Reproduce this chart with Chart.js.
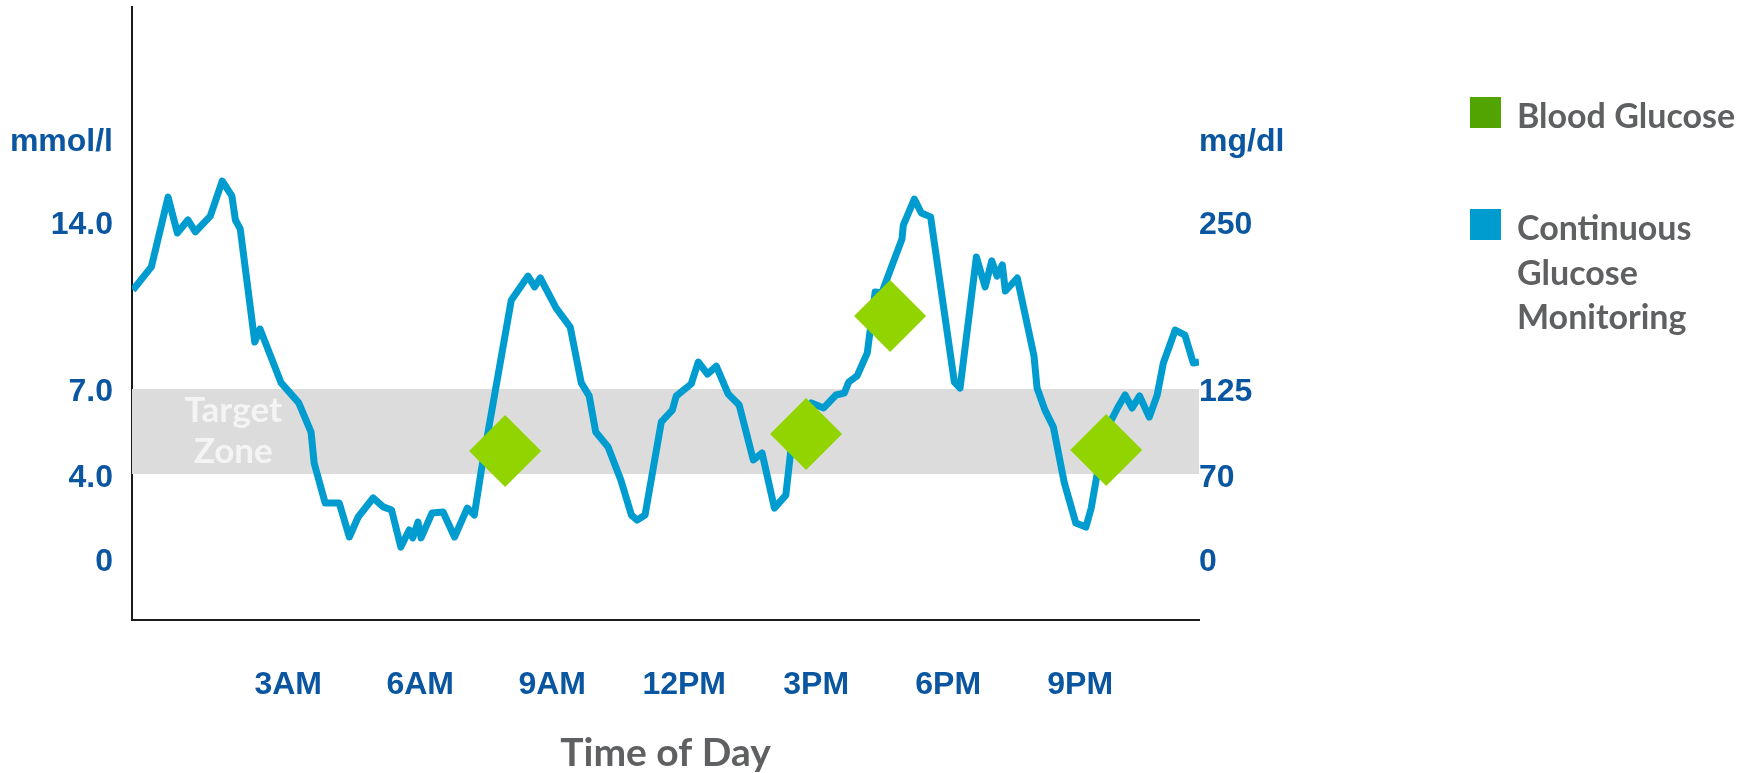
<!DOCTYPE html>
<html>
<head>
<meta charset="utf-8">
<title>Blood glucose vs CGM</title>
<script src="https://cdn.jsdelivr.net/npm/chart.js@4.4.1/dist/chart.umd.min.js"></script>
<style>
    html, body { margin: 0; padding: 0; background: #fff; }
    #wrap { position: relative; width: 1754px; height: 773px; }
    #glucoseChart { position: absolute; left: 0; top: 0; }
    .legend-item { position: absolute; left: 1470px; font-family: Lato, sans-serif; font-weight: 700;
        font-size: 34px; line-height: 44.5px; color: #5f6062; }
    .legend-item .box { position: absolute; left: 0; width: 31px; height: 31px; }
    .legend-item .txt { position: absolute; left: 47px; white-space: nowrap; }
</style>
</head>
<body>
<div id="wrap">
    <canvas id="glucoseChart" width="1754" height="773"></canvas>
    <div class="legend-item" style="top:0">
        <div class="box" style="top:97px;background:#52a500"></div>
        <div class="txt" style="top:93px">Blood Glucose</div>
    </div>
    <div class="legend-item" style="top:0">
        <div class="box" style="top:209px;background:#009cd0"></div>
        <div class="txt" style="top:205px">Continuous<br>Glucose<br>Monitoring</div>
    </div>
</div>
<script>
// continuous glucose trace (hour of day, mmol/l)
const cgmHours = [
    -0.53, -0.11, 0.27, 0.48, 0.72, 0.89, 1.23, 1.50, 1.72, 1.80, 1.91, 2.24, 2.36,
    2.84, 3.24, 3.52, 3.59, 3.84, 4.16, 4.39, 4.59, 4.93, 5.16, 5.35, 5.56, 5.75, 5.83,
    5.95, 6.02, 6.27, 6.52, 6.78, 7.07, 7.23, 7.39,
    8.07, 8.45, 8.60, 8.73, 9.09, 9.41, 9.66, 9.84, 9.99, 10.27, 10.56, 10.80, 10.93,
    11.11, 11.48, 11.73, 11.82, 12.16, 12.32, 12.53, 12.73, 13.00, 13.25, 13.57, 13.77,
    14.05, 14.31, 14.45,
    14.89, 15.17, 15.45, 15.64, 15.74, 15.93, 16.16, 16.34, 16.49, 16.77, 16.95, 16.98,
    17.23, 17.39, 17.60,
    18.14, 18.27, 18.64, 18.84, 18.99, 19.11, 19.23, 19.30, 19.57, 19.95, 20.02, 20.20,
    20.39, 20.64, 20.90, 21.13, 21.25, 21.39, 21.59,
    21.86, 22.02, 22.18, 22.35, 22.57, 22.75, 22.89, 23.16, 23.38, 23.57, 23.70
];
const cgmValues = [
    11.30, 12.26, 15.16, 13.67, 14.21, 13.72, 14.37, 15.83, 15.21, 14.21, 13.84, 9.14, 9.68,
    7.44, 6.61, 5.40, 4.11, 2.45, 2.45, 1.04, 1.87, 2.66, 2.29, 2.16, 0.62, 1.33, 1.00,
    1.66, 1.00, 2.04, 2.08, 1.04, 2.24, 1.95, 3.82,
    10.88, 11.88, 11.43, 11.80, 10.55, 9.76, 7.44, 6.90, 5.40, 4.78, 3.41, 1.95, 1.74,
    1.95, 5.82, 6.31, 6.90, 7.40, 8.31, 7.81, 8.14, 6.98, 6.52, 4.24, 4.53,
    2.24, 2.78, 5.07,
    6.61, 6.40, 6.94, 7.02, 7.48, 7.73, 8.68, 11.22, 11.18, 12.55, 13.42, 14.00,
    15.08, 14.50, 14.34,
    7.48, 7.23, 12.67, 11.43, 12.51, 11.88, 12.34, 11.26, 11.80, 8.56, 7.23, 6.31,
    5.61, 3.28, 1.62, 1.45, 2.24, 3.70, 5.48,
    6.44, 6.94, 6.40, 6.90, 6.02, 6.94, 8.27, 9.64, 9.43, 8.27, 8.31
];

// finger-stick readings
const bgHours = [7.93, 14.77, 16.68, 21.59];
const bgValues = [4.61, 5.32, 10.22, 4.65];

const targetZone = [3.66, 7.19];
const zoneLabel = ['Target', 'Zone'];
const zoneLabelHour = 1.75;

const xTickHours = [3, 6, 9, 12, 15, 18, 21];
const xTickLabels = ['3AM', '6AM', '9AM', '12PM', '3PM', '6PM', '9PM'];
const yTickPos = [0, 3.49, 7.06, 14, 17.45];
const mmolLabels = ['0', '4.0', '7.0', '14.0', 'mmol/l'];
const mgdlLabels = ['0', '70', '125', '250', 'mg/dl'];

const X_MIN = -0.55, X_MAX = 23.7;
const Y_MIN = -2.41, Y_MAX = 23.06;

const BLUE_TEXT = '#0b56a0';

document.addEventListener('DOMContentLoaded', function () {
    initChart();
});

function fixedWidth(w) {
    return function (scale) {
        scale.width = w;
        scale.paddingTop = 0;
        scale.paddingBottom = 0;
    };
}

const zoneLabelPlugin = {
    id: 'zoneLabel',
    afterDatasetDraw(chart, args) {
        if (args.index !== 0) return;
        const { ctx, scales: { x, y } } = chart;
        const cx = x.getPixelForValue(zoneLabelHour);
        const cy = y.getPixelForValue((targetZone[0] + targetZone[1]) / 2);
        ctx.save();
        ctx.font = 'bold 35px Lato';
        ctx.fillStyle = '#f4f4f4';
        ctx.textAlign = 'center';
        ctx.textBaseline = 'middle';
        ctx.fillText(zoneLabel[0], cx, cy - 21);
        ctx.fillText(zoneLabel[1], cx, cy + 20);
        ctx.restore();
    }
};

function initChart() {
    const ctx = document.getElementById('glucoseChart');

    new Chart(ctx, {
        type: 'line',
        data: {
            datasets: [{
                label: 'Target Zone',
                data: [{ x: X_MIN, y: targetZone[1] }, { x: X_MAX, y: targetZone[1] }],
                borderColor: 'rgba(0,0,0,0)',
                backgroundColor: '#dcdcdc',
                pointRadius: 0,
                fill: { value: targetZone[0] },
                order: 3
            }, {
                label: 'Continuous Glucose Monitoring',
                data: cgmHours.map((h, i) => ({ x: h, y: cgmValues[i] })),
                borderColor: '#009cd0',
                borderWidth: 7,
                borderJoinStyle: 'round',
                pointRadius: 0,
                tension: 0,
                fill: false,
                order: 2
            }, {
                label: 'Blood Glucose',
                data: bgHours.map((h, i) => ({ x: h, y: bgValues[i] })),
                showLine: false,
                pointStyle: 'rectRot',
                pointRadius: 36,
                pointHoverRadius: 36,
                pointBackgroundColor: '#92d400',
                pointBorderWidth: 0,
                order: 1
            }]
        },
        options: {
            responsive: false,
            animation: false,
            events: [],
            layout: { autoPadding: false, padding: { top: 7, left: 0, right: 0, bottom: 0 } },
            scales: {
                x: {
                    type: 'linear',
                    min: X_MIN,
                    max: X_MAX,
                    grid: { display: false, drawTicks: false },
                    border: { display: true, color: '#1a1a1a', width: 2 },
                    afterBuildTicks: scale => { scale.ticks = xTickHours.map(v => ({ value: v })); },
                    afterFit: scale => { scale.height = 153; scale.paddingLeft = 0; scale.paddingRight = 0; },
                    ticks: {
                        padding: 46,
                        maxRotation: 0,
                        autoSkip: false,
                        color: BLUE_TEXT,
                        font: { family: 'Liberation Sans', weight: 'bold', size: 32 },
                        callback: (value, index) => xTickLabels[index]
                    },
                    title: {
                        display: true,
                        text: 'Time of Day',
                        color: '#5f6062',
                        font: { family: 'Lato', weight: 'bold', size: 39, lineHeight: 1 },
                        padding: { top: 0, bottom: 0 }
                    }
                },
                y: {
                    type: 'linear',
                    position: 'left',
                    min: Y_MIN,
                    max: Y_MAX,
                    grid: { display: false, drawTicks: false },
                    border: { display: true, color: '#1a1a1a', width: 2 },
                    afterBuildTicks: scale => { scale.ticks = yTickPos.map(v => ({ value: v })); },
                    afterFit: fixedWidth(132),
                    ticks: {
                        padding: 19,
                        autoSkip: false,
                        color: BLUE_TEXT,
                        font: { family: 'Liberation Sans', weight: 'bold', size: 32 },
                        callback: (value, index) => mmolLabels[index]
                    }
                },
                y2: {
                    type: 'linear',
                    position: 'right',
                    min: Y_MIN,
                    max: Y_MAX,
                    grid: { display: false, drawTicks: false },
                    border: { display: false },
                    afterBuildTicks: scale => { scale.ticks = yTickPos.map(v => ({ value: v })); },
                    afterFit: fixedWidth(555),
                    ticks: {
                        padding: 0,
                        autoSkip: false,
                        color: BLUE_TEXT,
                        font: { family: 'Liberation Sans', weight: 'bold', size: 32 },
                        callback: (value, index) => mgdlLabels[index]
                    }
                }
            },
            plugins: {
                legend: { display: false },
                tooltip: { enabled: false }
            }
        },
        plugins: [zoneLabelPlugin]
    });
}
</script>
</body>
</html>
